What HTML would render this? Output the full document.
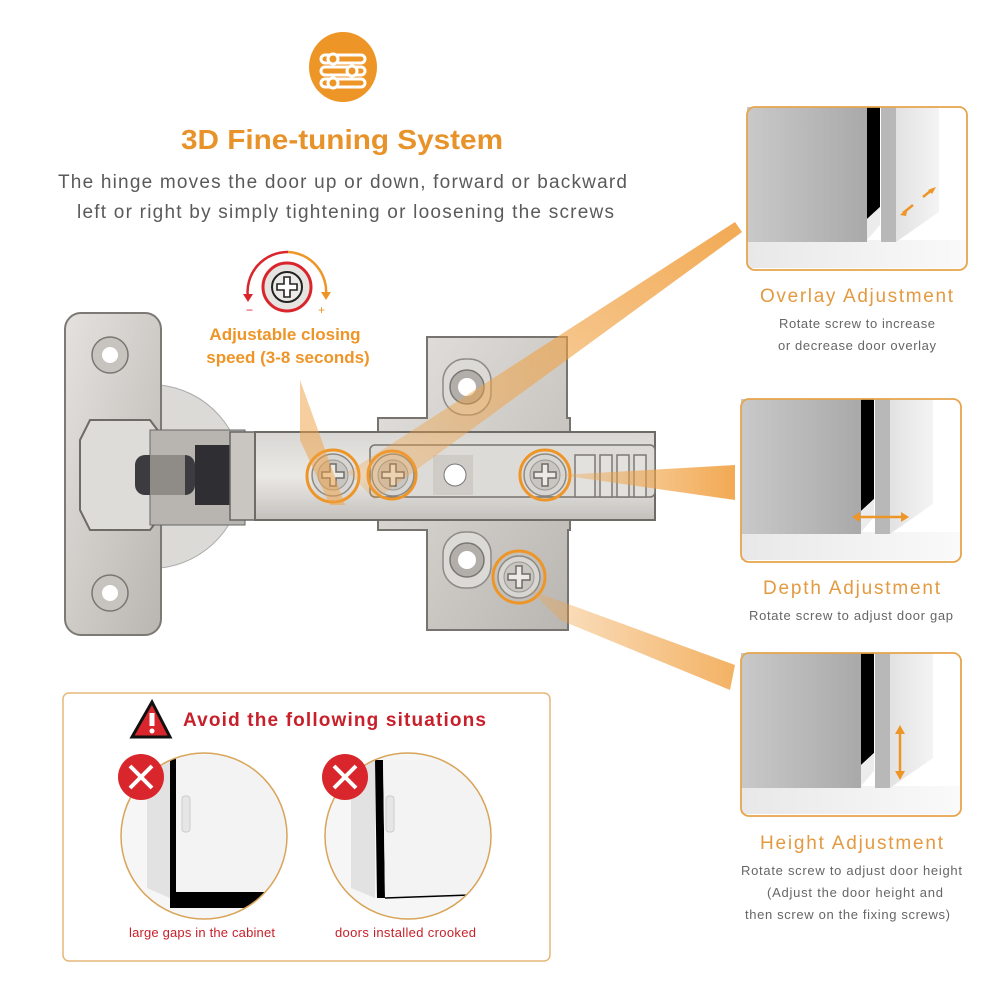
<!DOCTYPE html>
<html><head><meta charset="utf-8"><style>
html,body{margin:0;padding:0;background:#fff;}
svg{display:block;}
text{font-family:"Liberation Sans",sans-serif;}
</style></head><body>
<svg width="1000" height="1000" viewBox="0 0 1000 1000" xmlns="http://www.w3.org/2000/svg">
<defs>
<linearGradient id="metal" x1="0" y1="0" x2="1" y2="1">
<stop offset="0" stop-color="#e4e2df"/><stop offset="0.5" stop-color="#cfccc8"/><stop offset="1" stop-color="#b9b6b2"/></linearGradient>
<linearGradient id="arm" x1="0" y1="0" x2="0" y2="1">
<stop offset="0" stop-color="#d9d7d4"/><stop offset="0.5" stop-color="#ebe9e6"/><stop offset="1" stop-color="#c4c1bd"/></linearGradient>
<linearGradient id="beamA" x1="1" y1="0" x2="0" y2="1">
<stop offset="0" stop-color="#f0a040" stop-opacity="0.9"/><stop offset="1" stop-color="#f0a040" stop-opacity="0.25"/></linearGradient>
<linearGradient id="beamB" x1="0" y1="0" x2="1" y2="0">
<stop offset="0" stop-color="#f0a040" stop-opacity="0.3"/><stop offset="1" stop-color="#f0a040" stop-opacity="0.9"/></linearGradient>
<linearGradient id="gblock" x1="0" y1="0" x2="1" y2="0">
<stop offset="0" stop-color="#c9c9c9"/><stop offset="1" stop-color="#a9a9a9"/></linearGradient>
<linearGradient id="gdoor" x1="0" y1="0" x2="1" y2="0">
<stop offset="0" stop-color="#e2e2e2"/><stop offset="1" stop-color="#f4f4f4"/></linearGradient>
<linearGradient id="gfloor" x1="0" y1="0" x2="1" y2="0">
<stop offset="0" stop-color="#e8e8e8"/><stop offset="1" stop-color="#fafafa"/></linearGradient>
<g id="panel">
<rect x="0" y="0" width="220" height="163" rx="8" fill="#fff"/>
<rect x="0" y="133" width="220" height="28" fill="url(#gfloor)"/>
<rect x="0" y="0" width="120" height="135" fill="url(#gblock)"/>
<polygon points="120,0 133,0 133,100 120,112" fill="#000"/>
<polygon points="120,112 133,100 133,118 120,133" fill="#ececec"/>
<rect x="134" y="0" width="15" height="135" fill="#b8b8b8"/>
<polygon points="149,0 192,0 192,105 149,135" fill="url(#gdoor)"/>
<rect x="0" y="0" width="220" height="163" rx="8" fill="none" stroke="#e6a54c" stroke-width="1.8"/>
</g>
<g id="screw">
<circle r="21" fill="#d8d6d2" stroke="#8d8a86" stroke-width="1.5"/>
<circle r="15" fill="#c9c6c2" stroke="#9a9793" stroke-width="1"/>
<path d="M-3,-11 h6 v8 h8 v6 h-8 v8 h-6 v-8 h-8 v-6 h8z" fill="#eceae7" stroke="#6f6c68" stroke-width="1.5"/>
</g>
<g id="hole">
<rect x="-24" y="-28" width="48" height="56" rx="22" fill="#dcdad6" stroke="#8f8c88" stroke-width="1.5"/>
<circle r="17" fill="#b2afab" stroke="#7a7773" stroke-width="1.5"/>
<circle r="9" fill="#fff"/>
</g>
</defs>

<!-- top icon -->
<ellipse cx="343" cy="67" rx="34" ry="35" fill="#ee9527"/>
<g stroke="#fff" stroke-width="3" fill="none" stroke-linecap="round">
<rect x="321" y="55" width="44" height="8" rx="4"/>
<rect x="321" y="67" width="44" height="8" rx="4"/>
<rect x="321" y="79" width="44" height="8" rx="4"/>
</g>
<circle cx="333" cy="59" r="5" fill="#ee9527" stroke="#fff" stroke-width="3"/>
<circle cx="352" cy="71" r="5" fill="#ee9527" stroke="#fff" stroke-width="3"/>
<circle cx="333" cy="83" r="5" fill="#ee9527" stroke="#fff" stroke-width="3"/>

<text x="181" y="149" textLength="322" lengthAdjust="spacingAndGlyphs" font-size="28" font-weight="bold" fill="#e8922a">3D Fine-tuning System</text>
<text x="58" y="188" textLength="569" font-size="19" fill="#5a5a5a">The hinge moves the door up or down, forward or backward</text>
<text x="77" y="218" textLength="537" font-size="19" fill="#5a5a5a">left or right by simply tightening or loosening the screws</text>

<!-- speed icon -->
<path d="M248,298 A40,40 0 0 1 288,252" fill="none" stroke="#d9262c" stroke-width="2.5"/>
<path d="M288,252 A40,40 0 0 1 326,296" fill="none" stroke="#ee9527" stroke-width="2.5"/>
<polygon points="243,294 253,294 248,302" fill="#d9262c"/>
<polygon points="321,292 331,292 326,300" fill="#ee9527"/>
<circle cx="287" cy="287" r="24" fill="#e6e4e1" stroke="#d9262c" stroke-width="3"/>
<circle cx="287" cy="287" r="15" fill="#eceae7" stroke="#222" stroke-width="2"/>
<path d="M284,277 h6 v7 h7 v6 h-7 v7 h-6 v-7 h-7 v-6 h7z" fill="#fff" stroke="#222" stroke-width="1.6"/>
<text x="246" y="314" font-size="12" fill="#d9262c">−</text>
<text x="318" y="314" font-size="12" fill="#ee9527">+</text>
<text x="285" y="340" text-anchor="middle" font-size="17" font-weight="bold" fill="#ee9527">Adjustable closing</text>
<text x="288" y="363" text-anchor="middle" font-size="17" font-weight="bold" fill="#ee9527">speed (3-8 seconds)</text>

<!-- hinge: cup -->
<path d="M160,385 A92,92 0 0 1 160,568 Z" fill="#dcdad7" stroke="#aaa" stroke-width="1"/>
<!-- left plate -->
<rect x="65" y="313" width="96" height="322" rx="16" fill="url(#metal)" stroke="#7d7a76" stroke-width="2"/>
<path d="M90,420 L150,420 L165,440 L165,510 L150,530 L90,530 L80,510 L80,440Z" fill="#dedcd9" stroke="#6e6b67" stroke-width="2"/>
<circle cx="110" cy="355" r="18" fill="#c7c4c0" stroke="#7a7773" stroke-width="1.5"/><circle cx="110" cy="355" r="8" fill="#fff"/>
<circle cx="110" cy="593" r="18" fill="#c7c4c0" stroke="#7a7773" stroke-width="1.5"/><circle cx="110" cy="593" r="8" fill="#fff"/>
<rect x="150" y="430" width="95" height="95" fill="#b8b5b1" stroke="#666" stroke-width="1"/>
<rect x="135" y="455" width="60" height="40" rx="10" fill="#3b3b40"/>
<rect x="150" y="455" width="35" height="40" fill="#8f8c88"/>
<rect x="195" y="445" width="50" height="60" fill="#2e2e33"/>
<rect x="230" y="432" width="70" height="88" fill="#c9c6c2" stroke="#666" stroke-width="1.5"/>

<!-- mounting plate -->
<path d="M427,337 h140 v81 H570 V530 H568 V630 H427 V530 H378 V418 H427Z" fill="url(#metal)" stroke="#77746f" stroke-width="2"/>
<use href="#hole" x="467" y="387"/>
<use href="#hole" x="467" y="560"/>
<!-- arm -->
<rect x="255" y="432" width="400" height="88" fill="url(#arm)" stroke="#6e6b67" stroke-width="2"/>
<rect x="370" y="445" width="285" height="52" rx="5" fill="#dddbd8" stroke="#77746f" stroke-width="1.5"/>
<rect x="433" y="455" width="40" height="40" fill="#cfccc8"/><circle cx="455" cy="475" r="11" fill="#fff" stroke="#777" stroke-width="1"/>
<g fill="#e3e1de" stroke="#7c7975" stroke-width="1.5">
<rect x="575" y="455" width="20" height="42"/><rect x="600" y="455" width="12" height="42"/><rect x="617" y="455" width="12" height="42"/><rect x="634" y="455" width="12" height="42"/></g>
<use href="#screw" x="333" y="475"/>
<use href="#screw" x="393" y="475"/>
<use href="#screw" x="545" y="475"/>
<use href="#screw" x="519" y="577"/>
<g fill="none" stroke="#ee9527" stroke-width="3">
<circle cx="333" cy="476" r="26"/><circle cx="392" cy="475" r="24"/><circle cx="545" cy="475" r="25"/><circle cx="519" cy="577" r="26"/></g>

<!-- beams -->
<polygon points="735,222 742,232 375,500 348,472" fill="url(#beamA)"/>
<polygon points="300,380 345,505 330,505 300,440" fill="#f0a040" opacity="0.5"/>
<polygon points="560,475 735,465 735,500" fill="url(#beamB)"/>
<polygon points="530,590 735,665 730,690 560,620" fill="url(#beamB)" opacity="0.9"/>

<!-- panels -->
<use href="#panel" x="747" y="107"/>
<path d="M903,213 L913,205 M923,197 L933,189" stroke="#ee9527" stroke-width="2.5"/>
<polygon points="900,215 908,208 906,216" fill="#ee9527"/>
<polygon points="936,187 928,190 932,194" fill="#ee9527"/>
<use href="#panel" x="741" y="399"/>
<path d="M858,517 L905,517" stroke="#ee9527" stroke-width="2.5"/>
<polygon points="852,517 860,512 860,522" fill="#ee9527"/><polygon points="909,517 901,512 901,522" fill="#ee9527"/>
<use href="#panel" x="741" y="653"/>
<path d="M900,732 L900,774" stroke="#ee9527" stroke-width="2.5"/>
<polygon points="900,725 895,734 905,734" fill="#ee9527"/><polygon points="900,780 895,771 905,771" fill="#ee9527"/>

<g fill="#e39a40" font-size="19">
<text x="760" y="302" textLength="193">Overlay Adjustment</text>
<text x="763" y="594" textLength="177">Depth Adjustment</text>
<text x="760" y="849" textLength="183">Height Adjustment</text></g>
<g fill="#666" font-size="13">
<text x="779" y="328" textLength="156">Rotate screw to increase</text>
<text x="778" y="350" textLength="158">or decrease door overlay</text>
<text x="749" y="620" textLength="204">Rotate screw to adjust door gap</text>
<text x="741" y="875" textLength="221">Rotate screw to adjust door height</text>
<text x="767" y="897" textLength="176">(Adjust the door height and</text>
<text x="745" y="919" textLength="205">then screw on the fixing screws)</text></g>

<!-- bottom box -->
<rect x="63" y="693" width="487" height="268" rx="6" fill="#fff" stroke="#e6b778" stroke-width="1.5"/>
<polygon points="152,702 170,737 132,737" fill="#d9262c" stroke="#111" stroke-width="3"/>
<rect x="149.5" y="713" width="5" height="13" fill="#fff"/><circle cx="152" cy="731" r="2.5" fill="#fff"/>
<text x="183" y="726" textLength="303" font-size="19" font-weight="bold" fill="#c8202a">Avoid the following situations</text>

<g>
<clipPath id="c1"><circle cx="204" cy="836" r="83"/></clipPath>
<circle cx="204" cy="836" r="83" fill="#f6f6f6"/>
<g clip-path="url(#c1)">
<polygon points="147,770 170,760 170,898 147,888" fill="#e2e2e2"/>
<rect x="170" y="755" width="120" height="153" fill="#000"/>
<rect x="176" y="755" width="120" height="137" fill="#f3f3f3"/>
<rect x="182" y="796" width="8" height="36" rx="3" fill="#e6e6e6" stroke="#ccc"/>
</g>
<circle cx="204" cy="836" r="83" fill="none" stroke="#d9a45a" stroke-width="1.5"/>
<circle cx="141" cy="777" r="23" fill="#d9262c"/>
<path d="M130,766 L152,788 M152,766 L130,788" stroke="#fff" stroke-width="4"/>
</g>
<g>
<clipPath id="c2"><circle cx="408" cy="836" r="83"/></clipPath>
<circle cx="408" cy="836" r="83" fill="#f6f6f6"/>
<g clip-path="url(#c2)">
<polygon points="351,770 375,760 375,898 351,888" fill="#e2e2e2"/>
<polygon points="375,760 383,760 385,898 377,898" fill="#000"/>
<polygon points="383,760 500,760 500,898 385,898" fill="#f3f3f3"/>
<path d="M385,898 L470,895" stroke="#000" stroke-width="1.5"/>
<rect x="386" y="796" width="8" height="36" rx="3" fill="#e6e6e6" stroke="#ccc"/>
</g>
<circle cx="408" cy="836" r="83" fill="none" stroke="#d9a45a" stroke-width="1.5"/>
<circle cx="345" cy="777" r="23" fill="#d9262c"/>
<path d="M334,766 L356,788 M356,766 L334,788" stroke="#fff" stroke-width="4"/>
</g>
<text x="129" y="937" textLength="146" font-size="13" fill="#c8202a">large gaps in the cabinet</text>
<text x="335" y="937" textLength="141" font-size="13" fill="#c8202a">doors installed crooked</text>
</svg>
</body></html>
